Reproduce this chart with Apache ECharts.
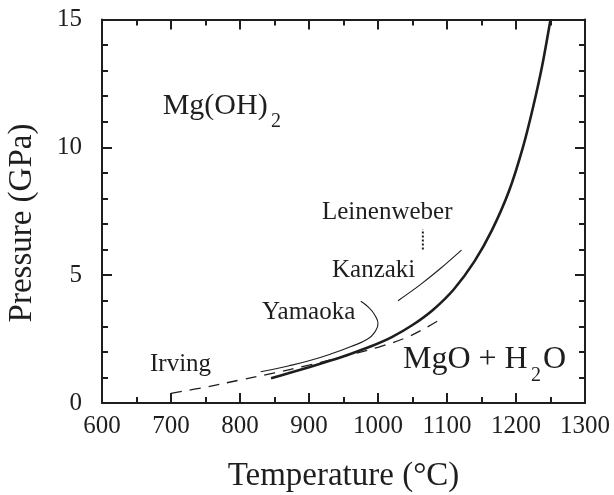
<!DOCTYPE html>
<html>
<head>
<meta charset="utf-8">
<script src="https://cdn.jsdelivr.net/npm/echarts@6/dist/echarts.min.js"></script>
<style>
html,body{margin:0;padding:0;background:#fff;}
#chart{width:614px;height:495px;}
</style>
</head>
<body>
<div id="chart"></div>
<script>
// Temperature (°C) / Pressure (GPa) pairs
const mainCurve = [[845,0.97],[870,1.16],[900,1.4],[930,1.65],[960,1.92],[990,2.22],[1020,2.58],[1050,3.05],[1080,3.65],[1110,4.45],[1140,5.55],[1165,6.75],[1190,8.3],[1210,10.0],[1225,11.6],[1238,13.2],[1250,15]];
const irving = [[700,0.38],[750,0.62],[800,0.9],[850,1.18],[900,1.48],[950,1.82],[1000,2.18],[1040,2.55],[1070,2.95],[1095,3.35]];
const yamaoka = [[830,1.22],[870,1.45],[900,1.65],[930,1.9],[960,2.2],[985,2.5],[996,2.8],[1000,3.1],[995,3.45],[986,3.75],[975,3.98]];
const kanzaki = [[1029,4.0],[1060,4.6],[1090,5.25],[1121,5.98]];
const leinenweber = [[1065,6.0],[1065,6.8]];
const xTicks = {min:600, max:1300, step:100};
const yTicks = {min:0, max:15, step:5};
const xTitle = 'Temperature (°C)';
const yTitle = 'Pressure (GPa)';

const FONT = '"Liberation Serif","Times New Roman",serif';
const INK = '#1e1e1e';
const chart = echarts.init(document.getElementById('chart'), null, {renderer:'canvas'});

function xAx(pos, labels){
  return {type:'value', position:pos, min:xTicks.min, max:xTicks.max, interval:xTicks.step,
    axisLine:{show:true, onZero:false, lineStyle:{color:INK, width:2}},
    axisTick:{show:true, inside:true, length:10, lineStyle:{color:INK, width:2}},
    minorTick:{show:true, splitNumber:2, length:6, lineStyle:{color:INK, width:2}},
    splitLine:{show:false}, minorSplitLine:{show:false},
    axisLabel:{show:labels, fontFamily:FONT, fontSize:25, color:INK, margin:11, formatter:v => String(v)}};
}
function yAx(pos, labels){
  return {type:'value', position:pos, min:yTicks.min, max:yTicks.max, interval:yTicks.step,
    axisLine:{show:true, onZero:false, lineStyle:{color:INK, width:2}},
    axisTick:{show:true, inside:true, length:10, lineStyle:{color:INK, width:2}},
    minorTick:{show:true, splitNumber:5, length:6, lineStyle:{color:INK, width:2}},
    splitLine:{show:false}, minorSplitLine:{show:false},
    axisLabel:{show:labels, fontFamily:FONT, fontSize:25, color:INK, margin:20, formatter:v => String(v)}};
}
function line(data, width, type, smooth){
  return {type:'line', data:data, symbol:'none', smooth:smooth, xAxisIndex:0, yAxisIndex:0,
    lineStyle:{color:INK, width:width, type:type}, z:3, silent:true, animation:false};
}
function txt(x, y, s, size){
  return {type:'text', x:x, y:y, style:{text:s, font:size+'px '+FONT, fill:INK, textAlign:'left', textVerticalAlign:'middle'}};
}

chart.setOption({
  backgroundColor:'#ffffff',
  animation:false,
  grid:{left:102, right:29, top:19.5, bottom:92, containLabel:false},
  xAxis:[xAx('bottom', true), xAx('top', false)],
  yAxis:[yAx('left', true), yAx('right', false)],
  series:[
    line(mainCurve, 2.6, 'solid', 0.3),
    line(irving, 1.3, [11,8], 0.4),
    line(yamaoka, 1.1, 'solid', 0.5),
    line(kanzaki, 1.1, 'solid', 0.3),
    line(leinenweber, 2, [2,2], false)
  ],
  graphic:[
    {type:'text', x:343.5, y:476, style:{text:xTitle, font:'33px '+FONT, fill:INK, textAlign:'center', textVerticalAlign:'middle'}},
    {type:'text', x:22, y:223, rotation:Math.PI/2, style:{text:yTitle, font:'33px '+FONT, fill:INK, textAlign:'center', textVerticalAlign:'middle'}},
    txt(162.7, 106.5, 'Mg(OH)', 30),
    txt(271, 122, '2', 20),
    txt(403, 360, 'MgO + H', 32),
    txt(531, 376, '2', 20),
    txt(543, 360, 'O', 32),
    txt(150, 364, 'Irving', 25),
    txt(262, 312, 'Yamaoka', 25),
    txt(332, 270.5, 'Kanzaki', 25),
    txt(322, 212, 'Leinenweber', 25)
  ]
});
</script>
</body>
</html>
